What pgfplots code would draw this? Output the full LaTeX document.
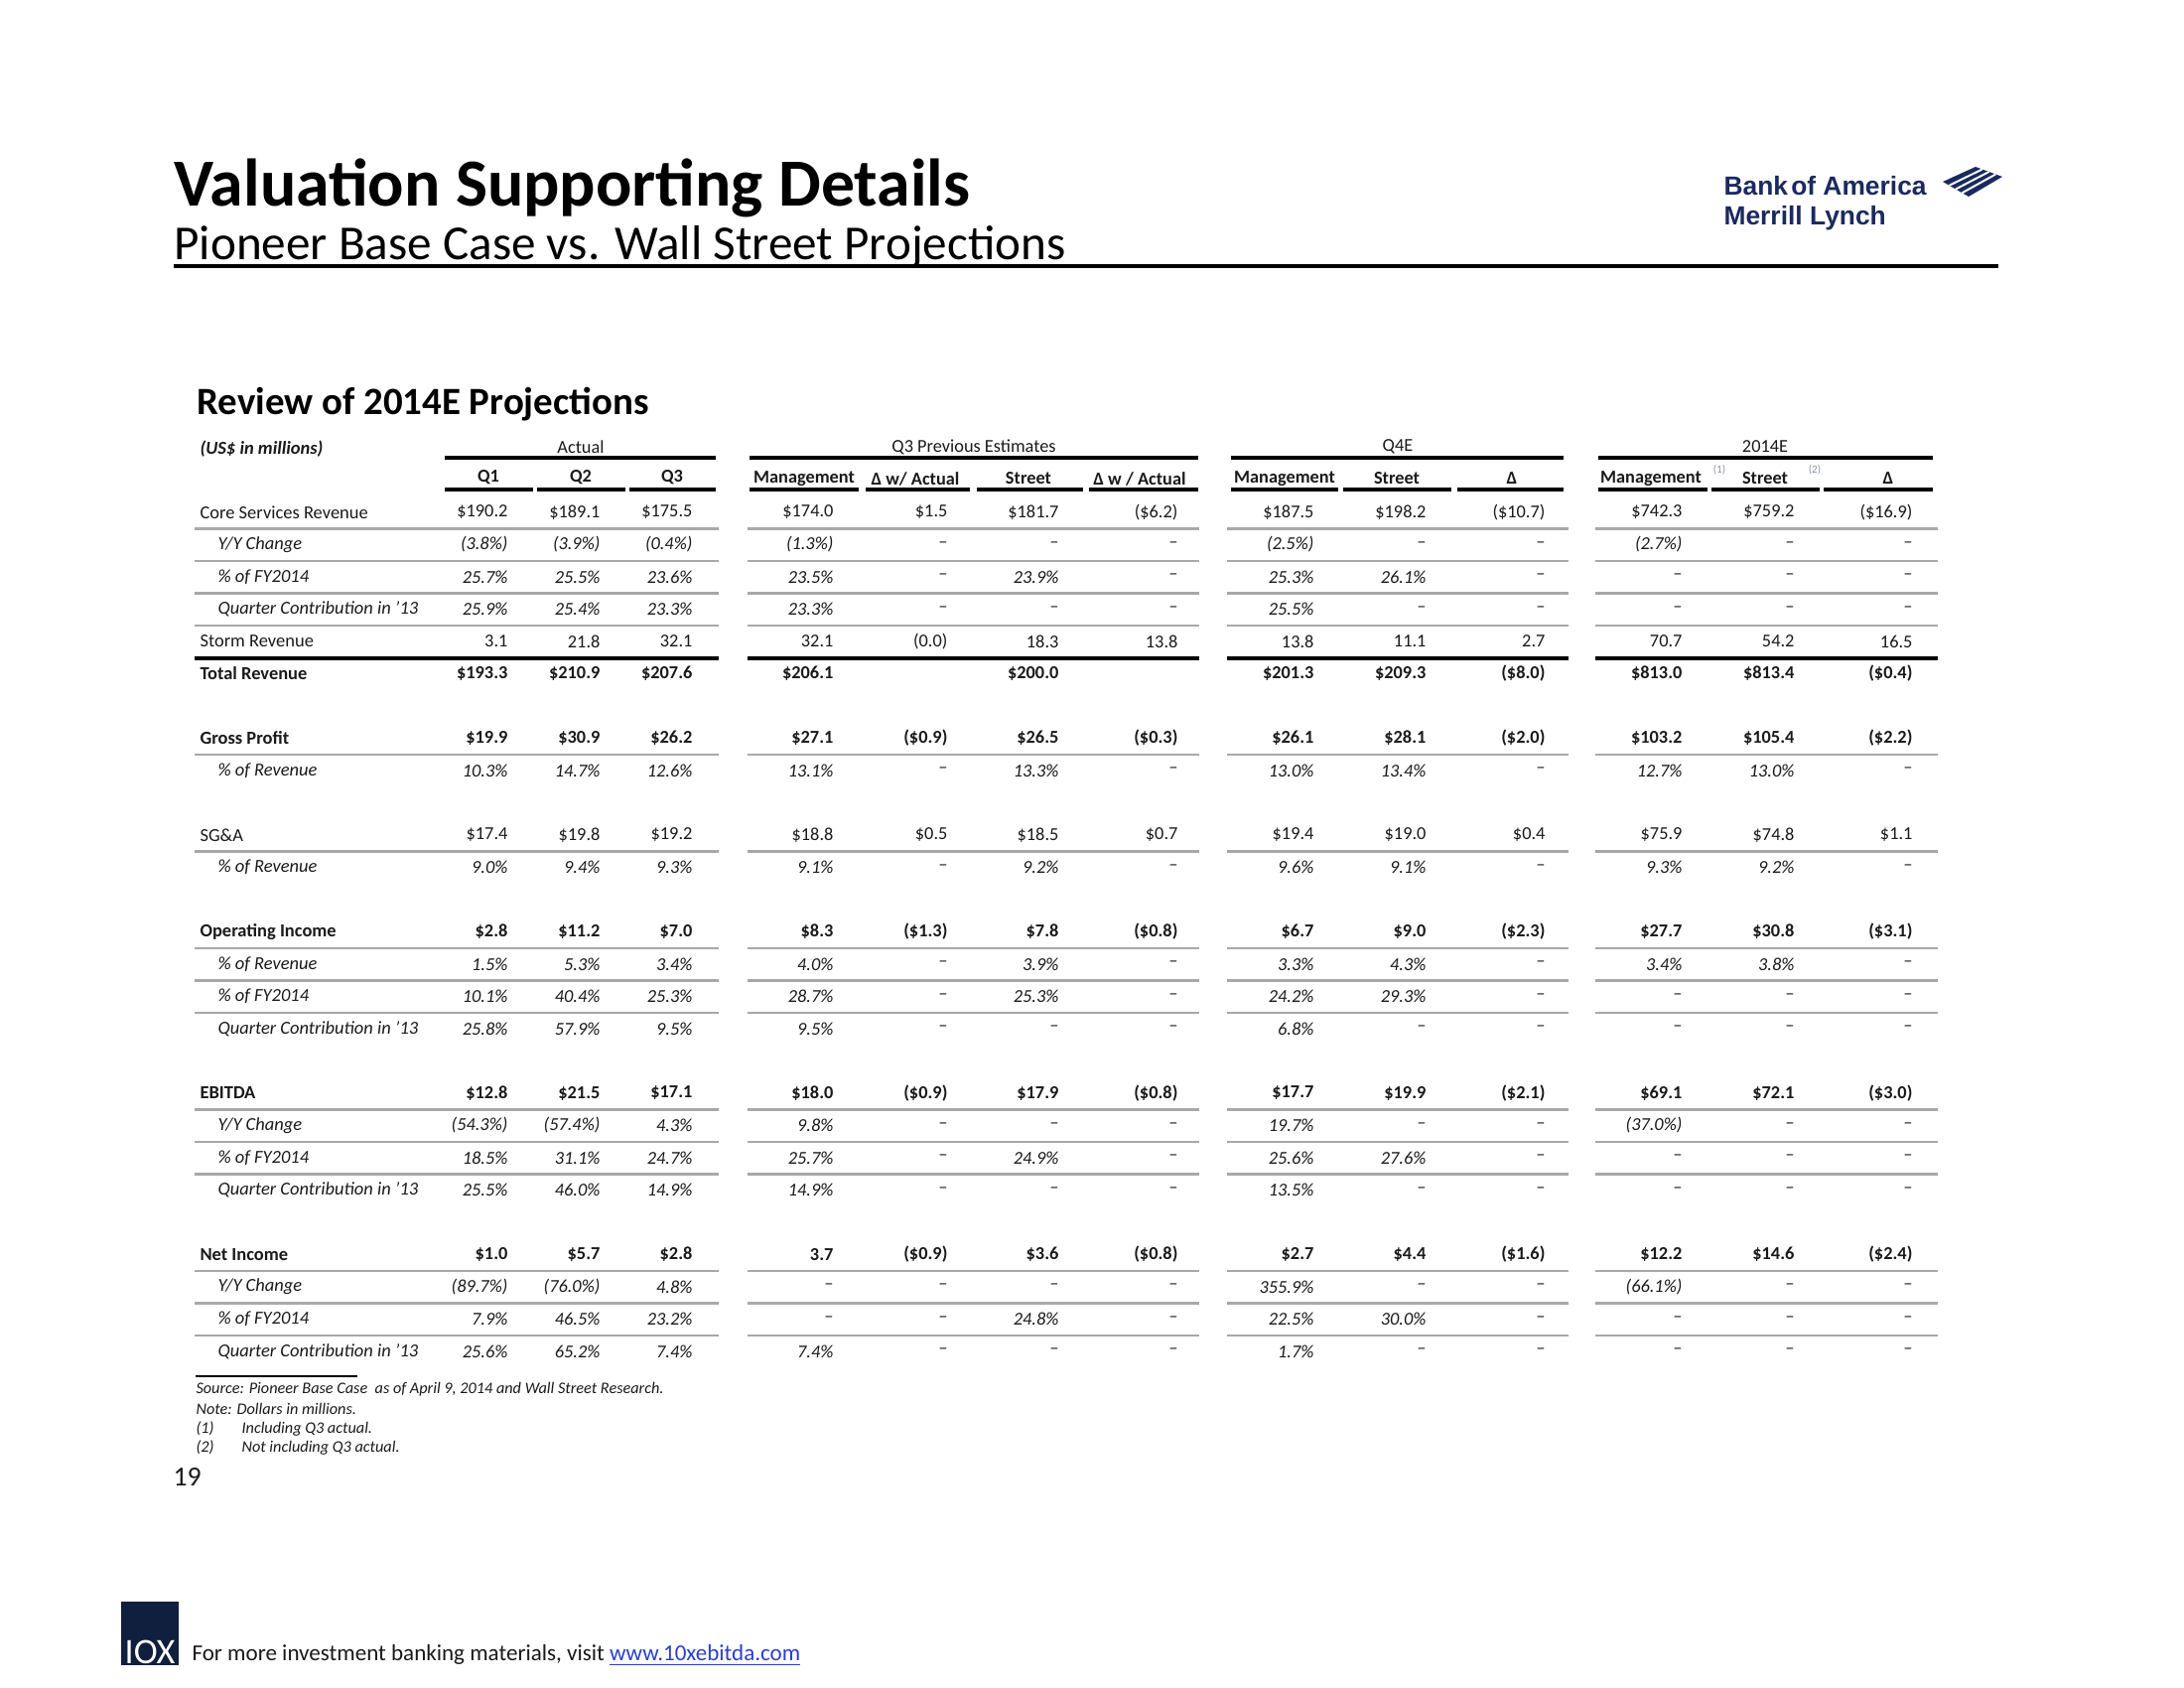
\documentclass[border=0pt]{standalone}
\usepackage{pgfplots}
\pgfplotsset{compat=1.18}
\usepackage{fontspec}
\setmainfont{Carlito}
\newfontfamily\logofont{Liberation Sans}
\definecolor{txt}{HTML}{1A1A1A}
\definecolor{rowline}{HTML}{A8A8A8}
\definecolor{boa}{HTML}{1B2A5E}
\definecolor{tenx}{HTML}{0F1F3D}
\definecolor{linkc}{HTML}{2A3FD0}
\definecolor{supc}{HTML}{8A8FA8}
\newcommand\fs[1]{\fontsize{#1}{#1}\selectfont}
\pgfplotsset{
  cell/.style={draw=none, mark=none, point meta=explicit symbolic,
    nodes near coords={\pgfplotspointmeta},
    every node near coord/.append style={anchor=east, inner sep=0pt, text=txt, font=\fs{6.6}#1}},
  cell/.default={},
  hline/.style={draw=rowline, line width=0.75pt, mark=none, unbounded coords=jump},
  bline/.style={draw=black, line width=1.15pt, mark=none, unbounded coords=jump},
}
\newcommand\lab[3]{\node[anchor=west, inner sep=0pt, text=txt, font=\fs{6.65}#1] at (axis cs:#2) {#3};}
\newcommand\hdr[3]{\node[anchor=center, inner sep=0pt, text=txt, font=\fs{6.6}#1] at (axis cs:#2) {#3};}
\begin{document}
\begin{tikzpicture}
\begin{axis}[
  at={(0,0)}, anchor=south west,
  width=792pt, height=612pt, scale only axis,
  xmin=0, xmax=2200, ymin=0, ymax=1700, y dir=reverse,
  hide axis, clip=false,
]
% ---------- title ----------
\node[anchor=base west, inner sep=0pt, font=\fs{24.4}\bfseries, text=black] at (axis cs:175,208) {Valuation Supporting Details};
\node[anchor=base west, inner sep=0pt, font=\fs{17.7}, text=black] at (axis cs:175,262) {Pioneer Base Case vs. Wall Street Projections};
\addplot[draw=black, line width=1.5pt, mark=none] coordinates {(175,268) (2013,268)};
% ---------- logo ----------
\node[anchor=west, inner sep=0pt, font=\logofont\fs{9.5}\bfseries, text=boa] at (axis cs:1736,187) {Bank\hspace{0.12em}of America};
\node[anchor=west, inner sep=0pt, font=\logofont\fs{9.5}\bfseries, text=boa] at (axis cs:1736,220) {Merrill Lynch};
\addplot[fill=boa, draw=none, mark=none] coordinates {(1957,183) (1990,168) (2017,178) (1983,198)} -- cycle;
\addplot[draw=white, line width=0.7pt, mark=none, unbounded coords=jump] coordinates {(1963.5,186.75) (1996.75,170.5) (nan,170) (1970,190.5) (2003.5,173) (nan,170) (1976.5,194.25) (2010.25,175.5)};
% ---------- section title ----------
\node[anchor=base west, inner sep=0pt, font=\fs{14}\bfseries, text=black] at (axis cs:198,418) {Review of 2014E Projections};
\lab{\bfseries\itshape}{201,452}{(US\$ in millions)}
% ---------- headers ----------
\hdr{}{585,450}{Actual}
\hdr{\bfseries}{492,481}{Q1}
\hdr{\bfseries}{585,481}{Q2}
\hdr{\bfseries}{677,481}{Q3}
\hdr{}{981,450}{Q3 Previous Estimates}
\hdr{\bfseries}{810,482}{Management}
\hdr{\bfseries}{922,482}{Δ w/ Actual}
\hdr{\bfseries}{1036,482}{Street}
\hdr{\bfseries}{1148,482}{Δ w / Actual}
\hdr{}{1408,450}{Q4E}
\hdr{\bfseries}{1294,482}{Management}
\hdr{\bfseries}{1407,482}{Street}
\hdr{\bfseries}{1523,482}{Δ}
\hdr{}{1778,450}{2014E}
\hdr{\bfseries}{1663,482}{Management}
\hdr{\bfseries}{1778,482}{Street}
\hdr{\bfseries}{1902,482}{Δ}
\node[inner sep=0pt, font=\fs{4}, text=supc] at (axis cs:1732,473) {(1)};
\node[inner sep=0pt, font=\fs{4}, text=supc] at (axis cs:1828,473) {(2)};
\addplot[bline] coordinates {(448,461) (721,461) (nan,461) (755,461) (1207,461) (nan,461) (1240,461) (1575,461) (nan,461) (1610,461) (1947,461)};
\addplot[bline] coordinates {(448,493) (537,493) (nan,493) (541,493) (630,493) (nan,493) (634,493) (721,493) (nan,493)
  (755,493) (865,493) (nan,493) (872,493) (977,493) (nan,493) (984,493) (1091,493) (nan,493) (1097,493) (1207,493) (nan,493)
  (1240,493) (1348,493) (nan,493) (1353,493) (1462,493) (nan,493) (1468,493) (1575,493) (nan,493)
  (1610,493) (1720,493) (nan,493) (1724,493) (1833,493) (nan,493) (1837,493) (1947,493)};
% ---------- row rules ----------
\pgfplotsinvokeforeach{532.5,565,597.5,630,760,857.5,955,987.5,1020,1117.5,1150,1182.5,1280,1312.5,1345}{
  \addplot[hline] coordinates {(196,#1) (724,#1) (nan,#1) (753,#1) (1208,#1) (nan,#1) (1236,#1) (1580,#1) (nan,#1) (1607,#1) (1952,#1)};
}
\addplot[bline] coordinates {(196,663) (724,663) (nan,663) (753,663) (1208,663) (nan,663) (1236,663) (1580,663) (nan,663) (1607,663) (1952,663)};
% ---------- row labels ----------
\lab{}{201,516}{Core Services Revenue}
\lab{\itshape}{219,548.5}{Y/Y Change}
\lab{\itshape}{219,581}{\% of FY2014}
\lab{\itshape}{219,613.5}{Quarter Contribution in '13}
\lab{}{201,646}{Storm Revenue}
\lab{\bfseries}{201,678.5}{Total Revenue}
\lab{\bfseries}{201,743.5}{Gross Profit}
\lab{\itshape}{219,776}{\% of Revenue}
\lab{}{201,841}{SG\&A}
\lab{\itshape}{219,873.5}{\% of Revenue}
\lab{\bfseries}{201,938.5}{Operating Income}
\lab{\itshape}{219,971}{\% of Revenue}
\lab{\itshape}{219,1003.5}{\% of FY2014}
\lab{\itshape}{219,1036}{Quarter Contribution in '13}
\lab{\bfseries}{201,1101}{EBITDA}
\lab{\itshape}{219,1133.5}{Y/Y Change}
\lab{\itshape}{219,1166}{\% of FY2014}
\lab{\itshape}{219,1198.5}{Quarter Contribution in '13}
\lab{\bfseries}{201,1263.5}{Net Income}
\lab{\itshape}{219,1296}{Y/Y Change}
\lab{\itshape}{219,1328.5}{\% of FY2014}
\lab{\itshape}{219,1361}{Quarter Contribution in '13}
% ---------- values ----------
\addplot[cell] coordinates {(512,516)[\$190.2] (605,516)[\$189.1] (698,516)[\$175.5] (840,516)[\$174.0] (955,516)[\$1.5] (1067,516)[\$181.7] (1187,516)[(\$6.2)] (1324,516)[\$187.5] (1437,516)[\$198.2] (1557,516)[(\$10.7)] (1695,516)[\$742.3] (1808,516)[\$759.2] (1927,516)[(\$16.9)]};
\addplot[cell=\itshape] coordinates {(512,548.5)[(3.8\%)] (605,548.5)[(3.9\%)] (698,548.5)[(0.4\%)] (840,548.5)[(1.3\%)] (955,548.5)[--] (1067,548.5)[--] (1187,548.5)[--] (1324,548.5)[(2.5\%)] (1437,548.5)[--] (1557,548.5)[--] (1695,548.5)[(2.7\%)] (1808,548.5)[--] (1927,548.5)[--]};
\addplot[cell=\itshape] coordinates {(512,581)[25.7\%] (605,581)[25.5\%] (698,581)[23.6\%] (840,581)[23.5\%] (955,581)[--] (1067,581)[23.9\%] (1187,581)[--] (1324,581)[25.3\%] (1437,581)[26.1\%] (1557,581)[--] (1695,581)[--] (1808,581)[--] (1927,581)[--]};
\addplot[cell=\itshape] coordinates {(512,613.5)[25.9\%] (605,613.5)[25.4\%] (698,613.5)[23.3\%] (840,613.5)[23.3\%] (955,613.5)[--] (1067,613.5)[--] (1187,613.5)[--] (1324,613.5)[25.5\%] (1437,613.5)[--] (1557,613.5)[--] (1695,613.5)[--] (1808,613.5)[--] (1927,613.5)[--]};
\addplot[cell] coordinates {(512,646)[3.1] (605,646)[21.8] (698,646)[32.1] (840,646)[32.1] (955,646)[(0.0)] (1067,646)[18.3] (1187,646)[13.8] (1324,646)[13.8] (1437,646)[11.1] (1557,646)[2.7] (1695,646)[70.7] (1808,646)[54.2] (1927,646)[16.5]};
\addplot[cell=\bfseries] coordinates {(512,678.5)[\$193.3] (605,678.5)[\$210.9] (698,678.5)[\$207.6] (840,678.5)[\$206.1] (1067,678.5)[\$200.0] (1324,678.5)[\$201.3] (1437,678.5)[\$209.3] (1557,678.5)[(\$8.0)] (1695,678.5)[\$813.0] (1808,678.5)[\$813.4] (1927,678.5)[(\$0.4)]};
\addplot[cell=\bfseries] coordinates {(512,743.5)[\$19.9] (605,743.5)[\$30.9] (698,743.5)[\$26.2] (840,743.5)[\$27.1] (955,743.5)[(\$0.9)] (1067,743.5)[\$26.5] (1187,743.5)[(\$0.3)] (1324,743.5)[\$26.1] (1437,743.5)[\$28.1] (1557,743.5)[(\$2.0)] (1695,743.5)[\$103.2] (1808,743.5)[\$105.4] (1927,743.5)[(\$2.2)]};
\addplot[cell=\itshape] coordinates {(512,776)[10.3\%] (605,776)[14.7\%] (698,776)[12.6\%] (840,776)[13.1\%] (955,776)[--] (1067,776)[13.3\%] (1187,776)[--] (1324,776)[13.0\%] (1437,776)[13.4\%] (1557,776)[--] (1695,776)[12.7\%] (1808,776)[13.0\%] (1927,776)[--]};
\addplot[cell] coordinates {(512,841)[\$17.4] (605,841)[\$19.8] (698,841)[\$19.2] (840,841)[\$18.8] (955,841)[\$0.5] (1067,841)[\$18.5] (1187,841)[\$0.7] (1324,841)[\$19.4] (1437,841)[\$19.0] (1557,841)[\$0.4] (1695,841)[\$75.9] (1808,841)[\$74.8] (1927,841)[\$1.1]};
\addplot[cell=\itshape] coordinates {(512,873.5)[9.0\%] (605,873.5)[9.4\%] (698,873.5)[9.3\%] (840,873.5)[9.1\%] (955,873.5)[--] (1067,873.5)[9.2\%] (1187,873.5)[--] (1324,873.5)[9.6\%] (1437,873.5)[9.1\%] (1557,873.5)[--] (1695,873.5)[9.3\%] (1808,873.5)[9.2\%] (1927,873.5)[--]};
\addplot[cell=\bfseries] coordinates {(512,938.5)[\$2.8] (605,938.5)[\$11.2] (698,938.5)[\$7.0] (840,938.5)[\$8.3] (955,938.5)[(\$1.3)] (1067,938.5)[\$7.8] (1187,938.5)[(\$0.8)] (1324,938.5)[\$6.7] (1437,938.5)[\$9.0] (1557,938.5)[(\$2.3)] (1695,938.5)[\$27.7] (1808,938.5)[\$30.8] (1927,938.5)[(\$3.1)]};
\addplot[cell=\itshape] coordinates {(512,971)[1.5\%] (605,971)[5.3\%] (698,971)[3.4\%] (840,971)[4.0\%] (955,971)[--] (1067,971)[3.9\%] (1187,971)[--] (1324,971)[3.3\%] (1437,971)[4.3\%] (1557,971)[--] (1695,971)[3.4\%] (1808,971)[3.8\%] (1927,971)[--]};
\addplot[cell=\itshape] coordinates {(512,1003.5)[10.1\%] (605,1003.5)[40.4\%] (698,1003.5)[25.3\%] (840,1003.5)[28.7\%] (955,1003.5)[--] (1067,1003.5)[25.3\%] (1187,1003.5)[--] (1324,1003.5)[24.2\%] (1437,1003.5)[29.3\%] (1557,1003.5)[--] (1695,1003.5)[--] (1808,1003.5)[--] (1927,1003.5)[--]};
\addplot[cell=\itshape] coordinates {(512,1036)[25.8\%] (605,1036)[57.9\%] (698,1036)[9.5\%] (840,1036)[9.5\%] (955,1036)[--] (1067,1036)[--] (1187,1036)[--] (1324,1036)[6.8\%] (1437,1036)[--] (1557,1036)[--] (1695,1036)[--] (1808,1036)[--] (1927,1036)[--]};
\addplot[cell=\bfseries] coordinates {(512,1101)[\$12.8] (605,1101)[\$21.5] (698,1101)[\$17.1] (840,1101)[\$18.0] (955,1101)[(\$0.9)] (1067,1101)[\$17.9] (1187,1101)[(\$0.8)] (1324,1101)[\$17.7] (1437,1101)[\$19.9] (1557,1101)[(\$2.1)] (1695,1101)[\$69.1] (1808,1101)[\$72.1] (1927,1101)[(\$3.0)]};
\addplot[cell=\itshape] coordinates {(512,1133.5)[(54.3\%)] (605,1133.5)[(57.4\%)] (698,1133.5)[4.3\%] (840,1133.5)[9.8\%] (955,1133.5)[--] (1067,1133.5)[--] (1187,1133.5)[--] (1324,1133.5)[19.7\%] (1437,1133.5)[--] (1557,1133.5)[--] (1695,1133.5)[(37.0\%)] (1808,1133.5)[--] (1927,1133.5)[--]};
\addplot[cell=\itshape] coordinates {(512,1166)[18.5\%] (605,1166)[31.1\%] (698,1166)[24.7\%] (840,1166)[25.7\%] (955,1166)[--] (1067,1166)[24.9\%] (1187,1166)[--] (1324,1166)[25.6\%] (1437,1166)[27.6\%] (1557,1166)[--] (1695,1166)[--] (1808,1166)[--] (1927,1166)[--]};
\addplot[cell=\itshape] coordinates {(512,1198.5)[25.5\%] (605,1198.5)[46.0\%] (698,1198.5)[14.9\%] (840,1198.5)[14.9\%] (955,1198.5)[--] (1067,1198.5)[--] (1187,1198.5)[--] (1324,1198.5)[13.5\%] (1437,1198.5)[--] (1557,1198.5)[--] (1695,1198.5)[--] (1808,1198.5)[--] (1927,1198.5)[--]};
\addplot[cell=\bfseries] coordinates {(512,1263.5)[\$1.0] (605,1263.5)[\$5.7] (698,1263.5)[\$2.8] (840,1263.5)[3.7] (955,1263.5)[(\$0.9)] (1067,1263.5)[\$3.6] (1187,1263.5)[(\$0.8)] (1324,1263.5)[\$2.7] (1437,1263.5)[\$4.4] (1557,1263.5)[(\$1.6)] (1695,1263.5)[\$12.2] (1808,1263.5)[\$14.6] (1927,1263.5)[(\$2.4)]};
\addplot[cell=\itshape] coordinates {(512,1296)[(89.7\%)] (605,1296)[(76.0\%)] (698,1296)[4.8\%] (840,1296)[--] (955,1296)[--] (1067,1296)[--] (1187,1296)[--] (1324,1296)[355.9\%] (1437,1296)[--] (1557,1296)[--] (1695,1296)[(66.1\%)] (1808,1296)[--] (1927,1296)[--]};
\addplot[cell=\itshape] coordinates {(512,1328.5)[7.9\%] (605,1328.5)[46.5\%] (698,1328.5)[23.2\%] (840,1328.5)[--] (955,1328.5)[--] (1067,1328.5)[24.8\%] (1187,1328.5)[--] (1324,1328.5)[22.5\%] (1437,1328.5)[30.0\%] (1557,1328.5)[--] (1695,1328.5)[--] (1808,1328.5)[--] (1927,1328.5)[--]};
\addplot[cell=\itshape] coordinates {(512,1361)[25.6\%] (605,1361)[65.2\%] (698,1361)[7.4\%] (840,1361)[7.4\%] (955,1361)[--] (1067,1361)[--] (1187,1361)[--] (1324,1361)[1.7\%] (1437,1361)[--] (1557,1361)[--] (1695,1361)[--] (1808,1361)[--] (1927,1361)[--]};
% ---------- footnotes ----------
\addplot[draw=black, line width=0.8pt, mark=none] coordinates {(197,1386) (360,1386)};
\node[anchor=west, inner sep=0pt, font=\fs{5.85}\itshape, text=txt] at (axis cs:197,1399) {Source: Pioneer Base Case \ as of April 9, 2014 and Wall Street Research.};
\node[anchor=west, inner sep=0pt, font=\fs{5.85}\itshape, text=txt] at (axis cs:197,1419) {Note: Dollars in millions.};
\node[anchor=west, inner sep=0pt, font=\fs{5.85}\itshape, text=txt] at (axis cs:197,1439) {(1)};
\node[anchor=west, inner sep=0pt, font=\fs{5.85}\itshape, text=txt] at (axis cs:243,1439) {Including Q3 actual.};
\node[anchor=west, inner sep=0pt, font=\fs{5.85}\itshape, text=txt] at (axis cs:197,1458) {(2)};
\node[anchor=west, inner sep=0pt, font=\fs{5.85}\itshape, text=txt] at (axis cs:243,1458) {Not including Q3 actual.};
\node[anchor=west, inner sep=0pt, font=\fs{10}, text=txt] at (axis cs:174,1487) {19};
% ---------- footer ----------
\addplot[fill=tenx, draw=none, mark=none] coordinates {(122,1613) (180,1613) (180,1677) (122,1677)} -- cycle;
\node[anchor=south, inner sep=0pt, font=\fs{13}, text=white] at (axis cs:151,1676) {IOX};
\node[anchor=west, inner sep=0pt, font=\fs{8.3}, text=txt] at (axis cs:193,1667) {For more investment banking materials, visit \textcolor{linkc}{\underline{www.10xebitda.com}}};
\end{axis}
\pgfresetboundingbox
\path (0,0) rectangle (792pt,612pt);
\end{tikzpicture}
\end{document}
